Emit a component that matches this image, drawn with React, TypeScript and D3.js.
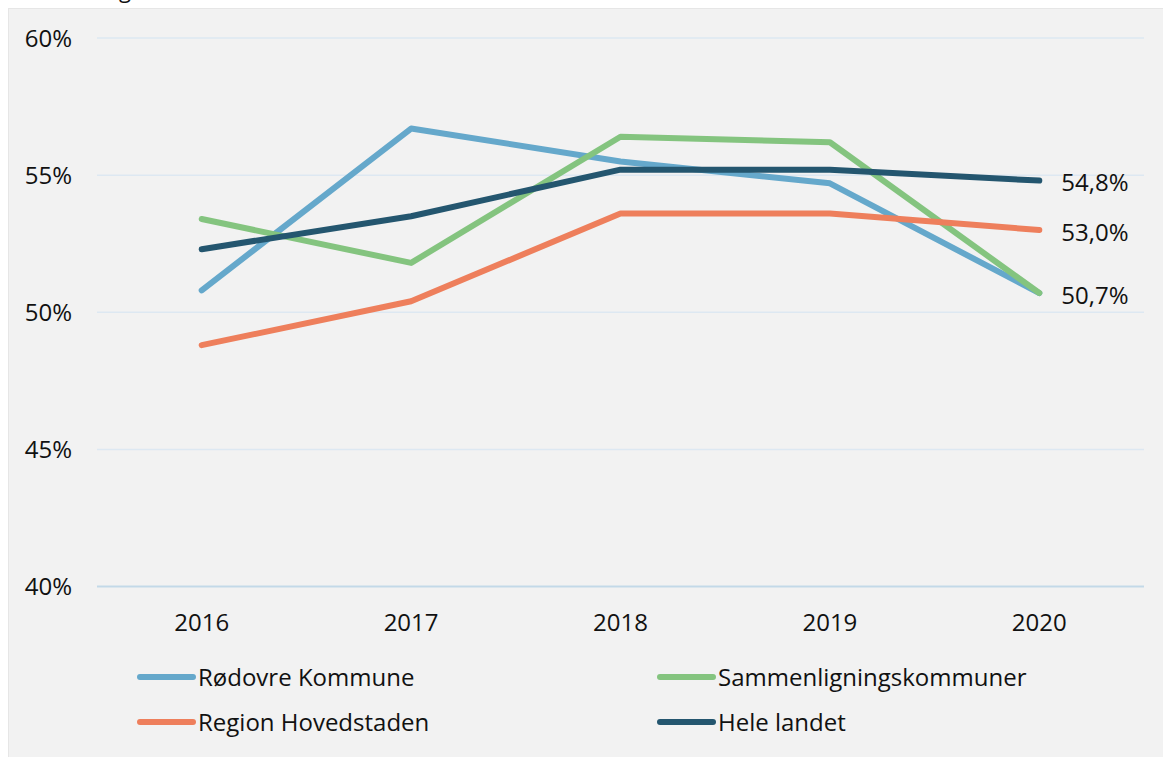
import React from "react";
import * as d3 from "d3";

const years = ["2016", "2017", "2018", "2019", "2020"];
const rodovre = [50.8, 56.7, 55.5, 54.7, 50.7];
const sammen = [53.4, 51.8, 56.4, 56.2, 50.7];
const region = [48.8, 50.4, 53.6, 53.6, 53.0];
const hele = [52.3, 53.5, 55.2, 55.2, 54.8];
const yTicks = [40, 45, 50, 55, 60];
const endLabels = ["54,8%", "53,0%", "50,7%"];

const W = 1163;
const H = 757;
const FONT = "'Open Sans', 'Noto Sans', sans-serif";

const series = [
  { name: "Rødovre Kommune", values: rodovre, color: "#65a8cb" },
  { name: "Sammenligningskommuner", values: sammen, color: "#84c47f" },
  { name: "Region Hovedstaden", values: region, color: "#ee7f5c" },
  { name: "Hele landet", values: hele, color: "#24566f" },
];

export default function App() {
  const x = d3.scalePoint<string>().domain(years).range([97, 1144]).padding(0.5);
  const y = d3.scaleLinear().domain([40, 60]).range([586.5, 38]);
  const line = d3
    .line<number>()
    .x((_, i) => x(years[i]) as number)
    .y((d) => y(d));

  const legendPos = [
    { x: 140, y: 677 },
    { x: 660, y: 677 },
    { x: 140, y: 722 },
    { x: 660, y: 722 },
  ];
  const last = years[years.length - 1];
  const endVals = [hele[4], region[4], rodovre[4]];

  return (
    <svg
      width={W}
      height={H}
      style={{ position: "absolute", left: 0, top: 0 }}
      fontFamily={FONT}
    >
      <rect x={0} y={0} width={W} height={H} fill="#ffffff" />
      <rect x={8.5} y={8.5} width={W} height={H} fill="#f2f2f2" stroke="#e6e6e6" />
      <text x={119} y={-2} fontSize={22} fill="#111">g</text>
      {yTicks.map((t) => (
        <g key={t}>
          <line
            x1={97}
            x2={1144}
            y1={y(t)}
            y2={y(t)}
            stroke={t === 40 ? "#c3d9e8" : "#dde8f2"}
            strokeWidth={t === 40 ? 2 : 1.5}
          />
          <text
            x={72}
            y={y(t)}
            dy="0.36em"
            textAnchor="end"
            fontSize={24}
            fill="#111"
          >
            {t}%
          </text>
        </g>
      ))}
      {years.map((yr) => (
        <text
          key={yr}
          x={x(yr) as number}
          y={622}
          dy="0.36em"
          textAnchor="middle"
          fontSize={24}
          fill="#111"
        >
          {yr}
        </text>
      ))}
      {series.map((s) => (
        <path
          key={s.name}
          d={line(s.values) || ""}
          fill="none"
          stroke={s.color}
          strokeWidth={6}
          strokeLinecap="round"
          strokeLinejoin="round"
        />
      ))}
      {endLabels.map((lbl, i) => (
        <text
          key={lbl}
          x={(x(last) as number) + 22}
          y={y(endVals[i]) + 2}
          dy="0.36em"
          fontSize={24}
          fill="#111"
        >
          {lbl}
        </text>
      ))}
      {series.map((s, i) => (
        <g key={s.name}>
          <line
            x1={legendPos[i].x}
            x2={legendPos[i].x + 53}
            y1={legendPos[i].y}
            y2={legendPos[i].y}
            stroke={s.color}
            strokeWidth={6}
            strokeLinecap="round"
          />
          <text
            x={legendPos[i].x + 58}
            y={legendPos[i].y}
            dy="0.36em"
            fontSize={24}
            fill="#111"
          >
            {s.name}
          </text>
        </g>
      ))}
    </svg>
  );
}
